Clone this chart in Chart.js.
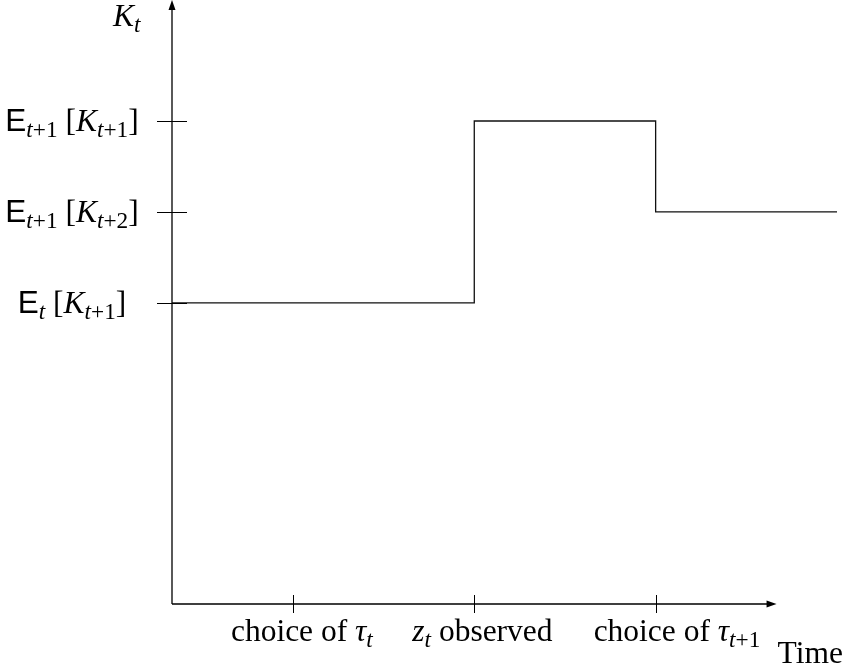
<!DOCTYPE html>
<html>
<head>
<meta charset="utf-8">
<script src="https://cdn.jsdelivr.net/npm/chart.js@4.4.1/dist/chart.umd.min.js"></script>
<style>
  html, body { margin: 0; padding: 0; background: #fff; }
  #wrap { width: 843px; height: 669px; }
</style>
</head>
<body>
<div id="wrap"><canvas id="grafico" width="843" height="669"></canvas></div>
<script>
    // time points where the expected level changes, and the level held from each point
    const tempos = [0, 2.5, 4, 5.5];
    const niveis = [3.31, 5.31, 4.31, 4.31];

    // axis extents (in data units)
    const eixoXFim = 5.0;
    const eixoYFim = 6.64;

    // y ticks and their labels (pieces: [text, kind])
    const ticksY = [5.31, 4.31, 3.31];
    const labelsY = [
        [['E', 'sf'], ['t', 'subit'], ['+1', 'subrm'], [' [', 'rm'], ['K', 'it'], ['t', 'subit'], ['+1', 'subrm'], [']', 'rm']],
        [['E', 'sf'], ['t', 'subit'], ['+1', 'subrm'], [' [', 'rm'], ['K', 'it'], ['t', 'subit'], ['+2', 'subrm'], [']', 'rm']],
        [['E', 'sf'], ['t', 'subit'], [' [', 'rm'], ['K', 'it'], ['t', 'subit'], ['+1', 'subrm'], [']', 'rm']]
    ];

    // x ticks and their labels
    const ticksX = [1, 2.5, 4];
    const labelsX = [
        [['choice of ', 'rm'], ['τ', 'it'], ['t', 'subit']],
        [['z', 'it'], ['t', 'subit'], [' observed', 'rm']],
        [['choice of ', 'rm'], ['τ', 'it'], ['t', 'subit'], ['+1', 'subrm']]
    ];

    const tituloY = [['K', 'it'], ['t', 'subit']];
    const tituloX = [['Time', 'rm']];

    const TAM = 31.5;
    const fontes = {
        sf: TAM + 'px "Liberation Sans"',
        rm: TAM + 'px "Liberation Serif"',
        it: 'italic ' + TAM + 'px "Liberation Serif"',
        subit: 'italic ' + (TAM * 0.74).toFixed(1) + 'px "Liberation Serif"',
        subrm: (TAM * 0.74).toFixed(1) + 'px "Liberation Serif"'
    };

    function larguraTexto(ctx, pecas) {
        let w = 0;
        pecas.forEach(p => {
            ctx.font = fontes[p[1]];
            w += ctx.measureText(p[0]).width;
        });
        return w;
    }

    function desenhaTexto(ctx, pecas, x, base, alinha) {
        const w = larguraTexto(ctx, pecas);
        let cx = x;
        if (alinha === 'center') cx = x - w / 2;
        if (alinha === 'right') cx = x - w;
        ctx.fillStyle = '#000';
        ctx.textBaseline = 'alphabetic';
        ctx.textAlign = 'left';
        pecas.forEach(p => {
            ctx.font = fontes[p[1]];
            const desce = p[1].startsWith('sub') ? TAM * 0.2 : 0;
            ctx.fillText(p[0], cx, base + desce);
            cx += ctx.measureText(p[0]).width;
        });
    }

    const eixos = {
        id: 'eixos',
        afterDraw(chart) {
            const { ctx, scales: { x, y } } = chart;
            const x0 = x.getPixelForValue(0);
            const y0 = y.getPixelForValue(0);
            const yTopo = y.getPixelForValue(eixoYFim);
            const xFim = x.getPixelForValue(eixoXFim);

            ctx.save();
            ctx.strokeStyle = '#000';
            ctx.fillStyle = '#000';
            ctx.lineWidth = 1.3;

            // eixos
            ctx.beginPath();
            ctx.moveTo(x0, y0);
            ctx.lineTo(x0, yTopo + 6);
            ctx.moveTo(x0, y0);
            ctx.lineTo(xFim - 6, y0);
            ctx.stroke();

            // setas
            ctx.beginPath();
            ctx.moveTo(x0, yTopo);
            ctx.lineTo(x0 - 3.5, yTopo + 10);
            ctx.lineTo(x0 + 3.5, yTopo + 10);
            ctx.closePath();
            ctx.fill();
            ctx.beginPath();
            ctx.moveTo(xFim, y0);
            ctx.lineTo(xFim - 10, y0 - 3.5);
            ctx.lineTo(xFim - 10, y0 + 3.5);
            ctx.closePath();
            ctx.fill();

            // ticks
            ctx.lineWidth = 1;
            ctx.beginPath();
            ticksY.forEach(v => {
                const py = Math.round(y.getPixelForValue(v)) + 0.5;
                ctx.moveTo(x0 - 15, py);
                ctx.lineTo(x0 + 15, py);
            });
            ticksX.forEach(v => {
                const px = Math.round(x.getPixelForValue(v)) + 0.5;
                ctx.moveTo(px, y0 - 9);
                ctx.lineTo(px, y0 + 9);
            });
            ctx.stroke();

            // labels
            ticksY.forEach((v, i) => {
                desenhaTexto(ctx, labelsY[i], x0 - 100, y.getPixelForValue(v) + 10, 'center');
            });
            ticksX.forEach((v, i) => {
                desenhaTexto(ctx, labelsX[i], x.getPixelForValue(v) - 62, y0 + 37, 'left');
            });
            desenhaTexto(ctx, tituloY, x0 - 59, yTopo + 26, 'left');
            desenhaTexto(ctx, tituloX, xFim + 1, y0 + 59, 'left');
            ctx.restore();
        }
    };

    const ctx = document.getElementById('grafico');

    let chart = new Chart(ctx, {
        type: 'line',
        data: {
            datasets: [
                {
                    data: tempos.map((t, i) => ({ x: t, y: niveis[i] })),
                    borderColor: '#111',
                    borderWidth: 1.3,
                    stepped: 'before',
                    fill: false,
                    pointRadius: 0
                }
            ]
        },
        options: {
            responsive: false,
            animation: false,
            devicePixelRatio: 1,
            layout: {
                padding: { left: 172, right: 6, top: 0, bottom: 65 }
            },
            plugins: {
                legend: { display: false },
                tooltip: { enabled: false }
            },
            scales: {
                x: {
                    type: 'linear',
                    min: 0,
                    max: 5.5,
                    display: false
                },
                y: {
                    min: 0,
                    max: eixoYFim,
                    display: false
                }
            }
        },
        plugins: [eixos]
    });
</script>
</body>
</html>
